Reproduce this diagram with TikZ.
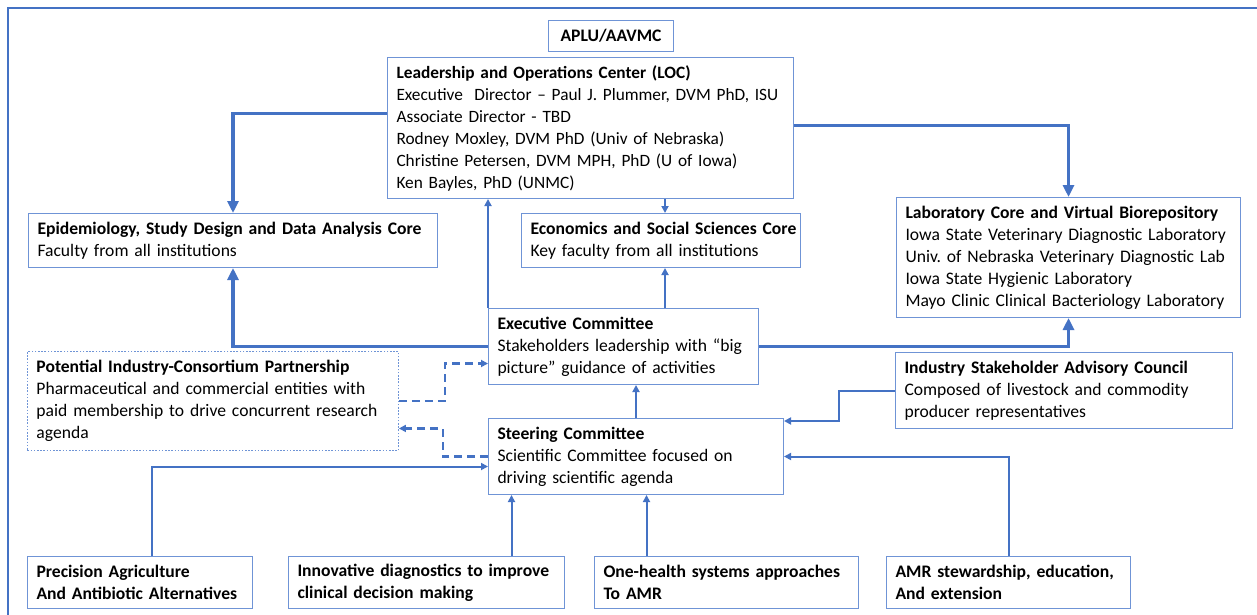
\documentclass[tikz,border=0pt]{standalone}
\usepackage{fontspec}
\setmainfont{Carlito}
\usetikzlibrary{arrows.meta}
\definecolor{lnblue}{HTML}{4472C4}
\definecolor{bxblue}{HTML}{6F94D6}
\frenchspacing
\begin{document}
\begin{tikzpicture}[x=1pt,y=-1pt,
  box/.style={draw=bxblue, line width=1pt, align=left, inner xsep=9pt, inner ysep=0pt,
    font=\fontsize{17.6}{22}\selectfont, anchor=north west, text=black},
  dotbox/.style={box, dash pattern=on 1.6pt off 1.6pt, line width=0.9pt},
  thinconn/.style={draw=lnblue, line width=2pt, -{Triangle[length=7pt,width=7pt]}},
  thickconn/.style={draw=lnblue, line width=3.4pt, -{Triangle[length=12pt,width=11pt]}},
  dashconn/.style={draw=lnblue, line width=2.2pt, dash pattern=on 8pt off 5pt, -{Triangle[length=7pt,width=7pt]}}
]
\useasboundingbox (0,0) rectangle (1257,615);
% outer frame
\draw[lnblue, line width=2pt] (8,615) -- (8,8) -- (1257,8);

\node[box, align=center, text width=107pt, minimum height=31pt] (apl) at (548,20) {\textbf{APLU/AAVMC}};
\node[box, text width=388pt, minimum height=141pt, font=\fontsize{17.3}{22}\selectfont] (loc) at (387,57) {\mbox{\textbf{Leadership and Operations Center (LOC)}}\\
\mbox{Executive~ Director – Paul J. Plummer, DVM PhD, ISU}\\
\mbox{Associate Director - TBD}\\
\mbox{Rodney Moxley, DVM PhD (Univ of Nebraska)}\\
\mbox{Christine Petersen, DVM MPH, PhD (U of Iowa)}\\
\mbox{Ken Bayles, PhD (UNMC)}};
\node[box, text width=391pt, minimum height=54pt] (epi) at (28,213) {\mbox{\textbf{Epidemiology, Study Design and Data Analysis Core}}\\Faculty from all institutions};
\node[box, text width=261pt, minimum height=54pt] (econ) at (521,213) {\mbox{\textbf{Economics and Social Sciences Core}}\\\mbox{Key faculty from all institutions}};
\node[box, text width=326pt, minimum height=120pt] (lab) at (896,197) {\mbox{\textbf{Laboratory Core and Virtual Biorepository}}\\
\mbox{Iowa State Veterinary Diagnostic Laboratory}\\
\mbox{Univ.\ of Nebraska Veterinary Diagnostic Lab}\\
\mbox{Iowa State Hygienic Laboratory}\\
\mbox{Mayo Clinic Clinical Bacteriology Laboratory}};
\node[box, text width=319pt, minimum height=76pt] (ind) at (895,352) {\mbox{\textbf{Industry Stakeholder Advisory Council}}\\\mbox{Composed of livestock and commodity}\\\mbox{producer representatives}};
\node[box, text width=252pt, minimum height=76pt] (exec) at (488,308) {\mbox{\textbf{Executive Committee}}\\\mbox{Stakeholders leadership with “big}\\\mbox{picture” guidance of activities}};
\node[box, text width=277pt, minimum height=76pt] (steer) at (488,418) {\mbox{\textbf{Steering Committee}}\\\mbox{Scientific Committee focused on}\\\mbox{driving scientific agenda}};
\node[dotbox, text width=353pt, minimum height=99pt] (pot) at (27,351) {\mbox{\textbf{Potential Industry-Consortium Partnership}}\\\mbox{Pharmaceutical and commercial entities with}\\\mbox{paid membership to drive concurrent research}\\agenda};
\node[box, text width=207pt, minimum height=52pt] (prec) at (27,556) {\mbox{\textbf{Precision Agriculture}}\\\mbox{\textbf{And Antibiotic Alternatives}}};
\node[box, text width=258pt, minimum height=52pt] (innov) at (288,556) {\mbox{\textbf{Innovative diagnostics to improve}}\\\mbox{\textbf{clinical decision making}}};
\node[box, text width=246pt, minimum height=52pt] (one) at (594,556) {\mbox{\textbf{One-health systems approaches}}\\\mbox{\textbf{To AMR}}};
\node[box, text width=226pt, minimum height=52pt] (amr) at (886,556) {\mbox{\textbf{AMR stewardship, education,}}\\\mbox{\textbf{And extension}}};

% thick connectors
\draw[thickconn] ([yshift=14.5pt]loc.west) -| (epi.north);
\draw[thickconn] ([yshift=2.5pt]loc.east) -| (lab.north);
\draw[thickconn] (exec.west) -| (epi.south);
\draw[thickconn] (exec.east) -| (lab.south);
% thin connectors
\draw[thinconn] ([xshift=4pt]econ.north |- loc.south) -- ([xshift=4pt]econ.north);
\draw[thinconn] (exec.north west) -- (exec.north west |- loc.south);
\draw[thinconn] ([xshift=4pt]econ.north |- exec.north) -- ([xshift=4pt]econ.south);
\draw[thinconn] (steer.north) -- (steer.north |- exec.south);
\draw[thinconn] (ind.west) -| ([xshift=55pt,yshift=-3pt]steer.north east) -- ([yshift=-3pt]steer.north east);
\draw[thinconn] (amr.north) |- (steer.east);
\draw[thinconn] ([xshift=11.5pt]prec.north) |- ([yshift=-10pt]steer.west);
\draw[thinconn] ([xshift=85pt]innov.north) -- ([xshift=85pt]innov.north |- steer.south);
\draw[thinconn] ([xshift=-80pt]one.north) -- ([xshift=-80pt]one.north |- steer.south);
% dashed connectors
\draw[dashconn] (pot.east) -- ++(46,0) |- ([yshift=-17pt]exec.west);
\draw[dashconn] (steer.west) -- ++(-45,0) |- ([yshift=-27.5pt]pot.east);
\end{tikzpicture}
\end{document}
